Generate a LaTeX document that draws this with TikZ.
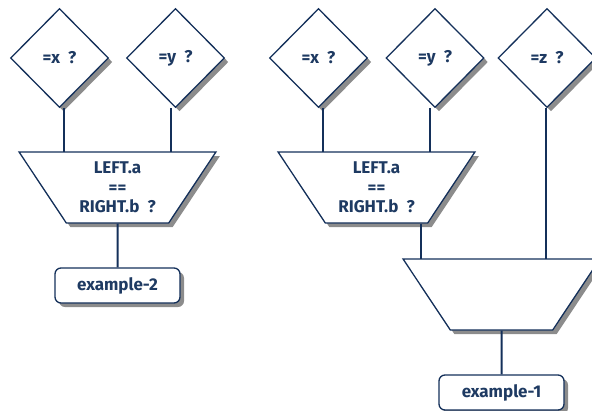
\documentclass[tikz,border=0pt]{standalone}
\usepackage{fontspec}
\setmainfont{Fira Sans}
\usetikzlibrary{shapes.geometric,shadows}
\definecolor{ink}{HTML}{14305A}
\definecolor{txt}{HTML}{1E3A62}
\begin{document}
\begin{tikzpicture}[x=1pt,y=-1pt,
  font=\fontsize{17}{19.5}\selectfont\bfseries,
  shadowed/.style={drop shadow={shadow xshift=4pt,shadow yshift=-4pt,fill=black!45,opacity=1}},
  test/.style={diamond,aspect=1,minimum width=98pt,minimum height=99pt,inner sep=0pt,
    draw=ink,line width=1.3pt,fill=white,text=txt,shadowed},
  merge/.style={trapezium,trapezium angle=55.4,shape border rotate=180,
    trapezium stretches=true,minimum width=197pt,minimum height=71pt,inner sep=0pt,
    draw=ink,line width=1.3pt,fill=white,text=txt,align=center,shadowed},
  result/.style={rectangle,rounded corners=6pt,minimum width=125pt,minimum height=35pt,
    inner sep=0pt,draw=ink,line width=1.3pt,fill=white,text=txt,shadowed},
  link/.style={draw=ink,line width=2pt}]
\useasboundingbox (0,0) rectangle (592,410);

% left network
\node[test] (lx) at (59.5,58) {=x\ \ ?};
\node[test] (ly) at (175.5,58) {=y\ \ ?};
\node[merge] (lj) at (117.5,187.5) {LEFT.a\\==\\RIGHT.b\ \ ?};
\node[result] (lout) at (117.5,285.5) {example-2};

% right network
\node[test] (rx) at (318.5,58) {=x\ \ ?};
\node[test] (ry) at (435,58) {=y\ \ ?};
\node[test] (rz) at (547,58) {=z\ \ ?};
\node[merge] (rj) at (376.5,187.5) {LEFT.a\\==\\RIGHT.b\ \ ?};
\node[merge] (rk) at (501.5,294.5) {\phantom{LEFT.a}\\\phantom{==}\\\phantom{RIGHT.b\ \ ?}};
\node[result] (rout) at (501.5,392.5) {example-1};

% input points on the join tops
\coordinate (lja) at (64,152);
\coordinate (ljb) at (171,152);
\coordinate (rja) at (323,152);
\coordinate (rjb) at (430,152);
\coordinate (rka) at (421,259);
\coordinate (rkb) at (546,259);

% connectors
\draw[link] (lja |- lx.south) -- (lja);
\draw[link] (ljb |- ly.south) -- (ljb);
\draw[link] (lj.south) -- (lout.north);
\draw[link] (rja |- rx.south) -- (rja);
\draw[link] (rjb |- ry.south) -- (rjb);
\draw[link] (rka |- rj.south) -- (rka);
\draw[link] (rkb |- rz.south) -- (rkb);
\draw[link] (rk.south) -- (rout.north);
\end{tikzpicture}
\end{document}
